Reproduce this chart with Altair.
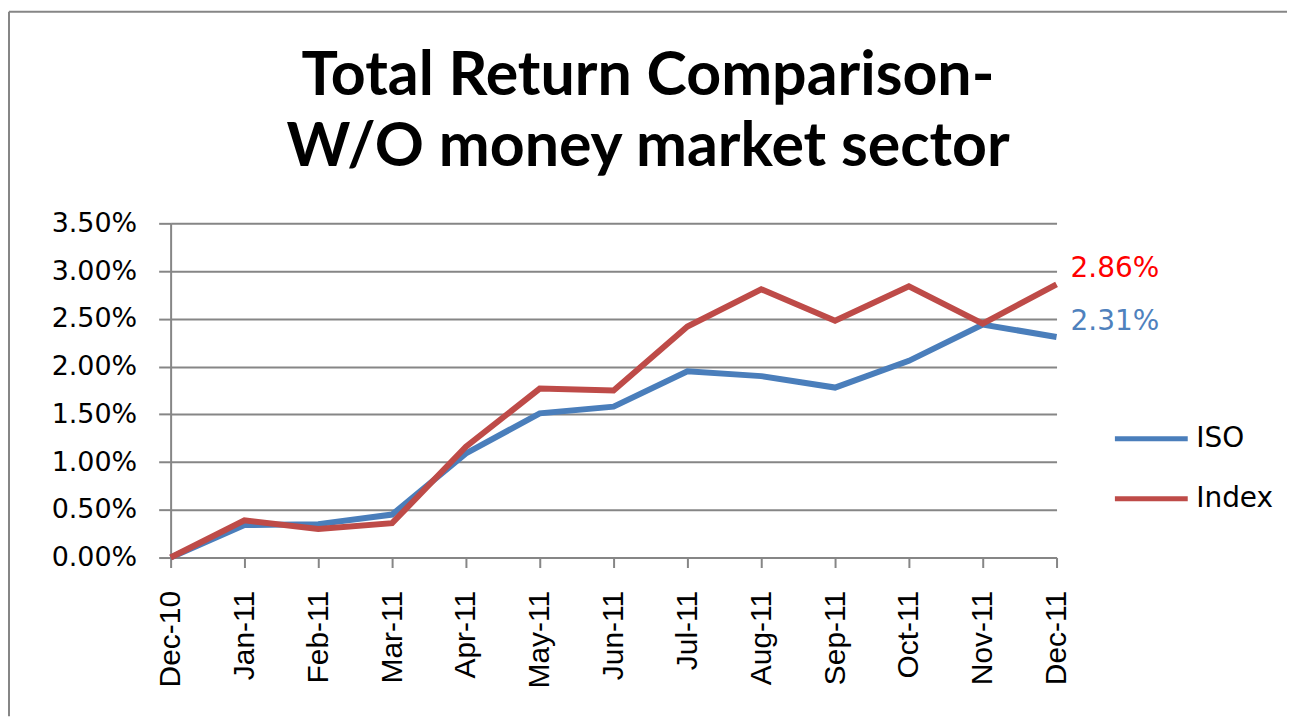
import altair as alt
import pandas as pd

months = ["Dec-10", "Jan-11", "Feb-11", "Mar-11", "Apr-11", "May-11", "Jun-11",
          "Jul-11", "Aug-11", "Sep-11", "Oct-11", "Nov-11", "Dec-11"]
iso = [0.00, 0.34, 0.35, 0.45, 1.09, 1.51, 1.58, 1.95, 1.90, 1.78, 2.06, 2.44, 2.31]
index = [0.00, 0.39, 0.30, 0.36, 1.16, 1.77, 1.75, 2.42, 2.81, 2.48, 2.84, 2.45, 2.86]
series = ["ISO", "Index"]
y_ticks = [0.0, 0.5, 1.0, 1.5, 2.0, 2.5, 3.0, 3.5]

rows = []
for s, vals in zip(series, [iso, index]):
    for i, (m, v) in enumerate(zip(months, vals)):
        rows.append({"month": m, "series": s, "value": v, "order": i})
df = pd.DataFrame(rows)

GRAY = "#868686"

x_enc = alt.X("month:N", sort=months, scale=alt.Scale(type="point", padding=0),
              axis=alt.Axis(title=None, labelAngle=-90, labelFont="Liberation Sans",
                            labelFontSize=30, labelColor="black", labelPadding=23,
                            tickSize=10, grid=False))
y_enc = alt.Y("value:Q", scale=alt.Scale(domain=[0, 3.5], nice=False),
              axis=alt.Axis(title=None, values=y_ticks,
                            labelExpr="format(datum.value, '.2f') + '%'",
                            labelFont="DejaVu Sans", labelFontSize=27,
                            labelColor="black", labelPadding=22, tickSize=12,
                            grid=True))

lines = alt.Chart(df).mark_line(strokeWidth=6).encode(
    x=x_enc,
    y=y_enc,
    order="order:Q",
    color=alt.Color("series:N",
                    scale=alt.Scale(domain=series, range=["#4A7EBB", "#BE4B48"]),
                    legend=alt.Legend(title=None, orient="none", legendX=944, legendY=201,
                                      symbolType="stroke", symbolSize=5329,
                                      symbolStrokeWidth=5, clipHeight=30, rowPadding=30,
                                      labelFont="DejaVu Sans", labelFontSize=28,
                                      labelColor="black", labelOffset=6)),
)

end_labels = alt.Chart(df).transform_filter(
    alt.datum.month == months[-1]
).transform_calculate(
    label="format(datum.value, '.2f') + '%'"
).mark_text(align="left", baseline="middle", dx=14, dy=-15,
            font="DejaVu Sans", fontSize=28).encode(
    x=alt.X("month:N", sort=months),
    y=alt.Y("value:Q"),
    text="label:N",
    color=alt.condition(alt.datum.series == "Index", alt.value("#FF0000"), alt.value("#4F81BD")),
)

frame_df = pd.DataFrame({"k": [0]})
frame_top = alt.Chart(frame_df).mark_rule(color=GRAY, strokeWidth=2).encode(
    x=alt.value(-162), x2=alt.value(1119), y=alt.value(-212))
frame_left = alt.Chart(frame_df).mark_rule(color=GRAY, strokeWidth=2).encode(
    x=alt.value(-162), y=alt.value(-212), y2=alt.value(494))

chart = alt.layer(frame_top, frame_left, lines, end_labels).properties(
    width=888,
    height=335,
    padding={"left": 0, "top": 2, "right": 0, "bottom": 0},
    title=alt.TitleParams(
        text=["Total Return Comparison-", "W/O money market sector"],
        font="Lato", fontSize=61, fontWeight="bold", color="black",
        anchor="middle", frame="bounds", lineHeight=72,
        baseline="alphabetic", offset=-217,
    ),
).configure_view(stroke=None).configure_axis(
    gridColor=GRAY, gridWidth=2, domainColor=GRAY, domainWidth=2,
    tickColor=GRAY, tickWidth=2,
)

chart.save("out.html", embed_options={"renderer": "svg", "actions": False})
